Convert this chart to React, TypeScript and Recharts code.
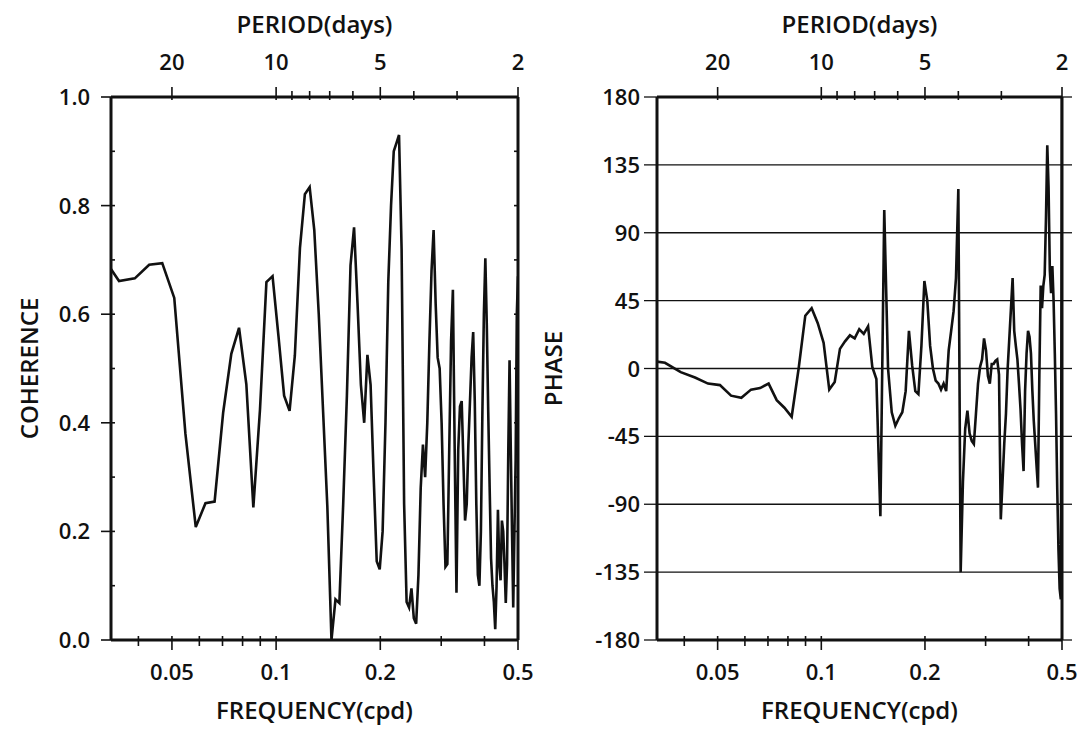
import React from "react";
import { ComposedChart, Line, XAxis, YAxis, CartesianGrid } from "recharts";

// spectral bins, cycles per day
const freq = [
  0.03125, 0.03516, 0.03906, 0.04297, 0.04688, 0.05078, 0.05469, 0.05859, 0.0625, 0.06641,
  0.07031, 0.07422, 0.07813, 0.08203, 0.08594, 0.08984, 0.09375, 0.09766, 0.10156, 0.10547,
  0.10938, 0.11328, 0.11719, 0.12109, 0.125, 0.12891, 0.13281, 0.13672, 0.14063, 0.14453,
  0.14844, 0.15234, 0.15625, 0.16016, 0.16406, 0.16797, 0.17188, 0.17578, 0.17969, 0.18359,
  0.1875, 0.19141, 0.19531, 0.19922, 0.20313, 0.20703, 0.21094, 0.21484, 0.21875, 0.22266,
  0.22656, 0.23047, 0.23438, 0.23828, 0.24219, 0.24609, 0.25, 0.25391, 0.25781, 0.26172,
  0.26563, 0.26953, 0.27344, 0.27734, 0.28125, 0.28516, 0.28906, 0.29297, 0.29688, 0.30078,
  0.30469, 0.30859, 0.3125, 0.31641, 0.32031, 0.32422, 0.32813, 0.33203, 0.33594, 0.33984,
  0.34375, 0.34766, 0.35156, 0.35547, 0.35938, 0.36328, 0.36719, 0.37109, 0.375, 0.37891,
  0.38281, 0.38672, 0.39063, 0.39453, 0.39844, 0.40234, 0.40625, 0.41016, 0.41406, 0.41797,
  0.42188, 0.42578, 0.42969, 0.43359, 0.4375, 0.44141, 0.44531, 0.44922, 0.45313, 0.45703,
  0.46094, 0.46484, 0.46875, 0.47266, 0.47656, 0.48047, 0.48438, 0.48828, 0.49219, 0.49609,
  0.5,
];

const coherence = [
  0.71, 0.661, 0.666, 0.691, 0.694, 0.63, 0.38, 0.208, 0.252, 0.255,
  0.419, 0.527, 0.575, 0.471, 0.244, 0.425, 0.659, 0.67, 0.56, 0.45,
  0.422, 0.524, 0.722, 0.821, 0.834, 0.755, 0.6, 0.42, 0.245, 0.0,
  0.075, 0.068, 0.25, 0.45, 0.69, 0.76, 0.62, 0.47, 0.4, 0.525,
  0.47, 0.3, 0.145, 0.13, 0.2, 0.4, 0.66, 0.8, 0.9, 0.915,
  0.93, 0.72, 0.25, 0.07, 0.06, 0.095, 0.04, 0.03, 0.12, 0.28,
  0.36, 0.3, 0.4, 0.55, 0.68, 0.755, 0.62, 0.52, 0.5, 0.4,
  0.25, 0.135, 0.14, 0.35, 0.55, 0.645, 0.35, 0.087, 0.35, 0.43,
  0.44, 0.33, 0.22, 0.25, 0.36, 0.44, 0.52, 0.567, 0.44, 0.25,
  0.12, 0.1, 0.2, 0.42, 0.6, 0.703, 0.58, 0.42, 0.28, 0.15,
  0.1, 0.07, 0.02, 0.1, 0.24, 0.14, 0.11, 0.22, 0.2, 0.14,
  0.068, 0.14, 0.35, 0.515, 0.35, 0.2, 0.06, 0.2, 0.33, 0.6,
  0.67,
];

const phase = [
  5.5, 3.8, -2.4, -6, -10, -11, -18, -19.4, -14, -13,
  -10, -21, -26, -32, 0, 35, 40, 30, 17, -14,
  -9, 13, 18, 22, 20, 26, 23, 28, 1, -7,
  -98, 105, 0, -29, -38, -33, -29, -15, 25, 2,
  -15, -17, 15, 58, 45, 15, 0, -8, -10, -14,
  -10, -15, 12, 25, 38, 60, 119, -135, -75, -40,
  -28, -43, -48, -50, -30, -10, 1, 6, 20, 12,
  -5, -10, 3, 3, 5, 6, -4, -100, -75, -50,
  -30, 0, 20, 40, 60, 25, 15, 6, -10, -27,
  -50, -68, -15, 10, 25, 21, 10, -15, -35, -50,
  -65, -79, -5, 55, 40, 55, 62, 100, 148, 120,
  65, 50, 68, 45, 10, -30, -80, -120, -146, -153,
  180,
];

// axis ticks
const freqMajor = [0.05, 0.1, 0.2, 0.5];
const freqTicks = [0.04, 0.05, 0.06, 0.07, 0.08, 0.09, 0.1, 0.2, 0.3, 0.4, 0.5];
const periodMajor = [20, 10, 5, 2];
const periodAll = [20, 10, 9, 8, 7, 6, 5, 4, 3, 2];
const cohTicks = [0, 0.1, 0.2, 0.3, 0.4, 0.5, 0.6, 0.7, 0.8, 0.9, 1];
const cohLabels = ["0.0", "", "0.2", "", "0.4", "", "0.6", "", "0.8", "", "1.0"];
const phaseTicks = [-180, -135, -90, -45, 0, 45, 90, 135, 180];

const F_DOMAIN: [number, number] = [1 / 30, 0.5];
const FONT = "'Open Sans', 'Noto Sans', sans-serif";
const INK = "#111";
const TICK_FS = 22;
const TITLE_FS = 24;
const WEIGHT = 600;

const cohData = freq.map((f, i) => ({ f, v: coherence[i] }));
const phaseData = freq.map((f, i) => ({ f, v: phase[i] }));

const txt = { fontSize: TICK_FS, fontFamily: FONT, fontWeight: WEIGHT, fill: INK };

function BottomTick({ x, y, payload }: any) {
  const v = payload.value as number;
  const major = freqMajor.includes(v);
  return (
    <g>
      <line x1={x} x2={x} y1={y - 4} y2={y + (major ? 10 : 6)} stroke={INK} strokeWidth={1.6} />
      {major && (
        <text x={x} y={y + 40} textAnchor="middle" {...txt}>
          {String(v)}
        </text>
      )}
    </g>
  );
}

function TopTick({ x, y, payload }: any) {
  const p = Math.round(1 / payload.value);
  const major = periodMajor.includes(p);
  return (
    <g>
      <line x1={x} x2={x} y1={y + 3} y2={y - (major ? 10 : 6)} stroke={INK} strokeWidth={1.6} />
      {major && (
        <text x={x} y={y - 27} textAnchor="middle" {...txt}>
          {p}
        </text>
      )}
    </g>
  );
}

function CohLeftTick({ x, y, index }: any) {
  const lab = cohLabels[index];
  return (
    <g>
      <line x1={x - (lab ? 10 : 0)} x2={x + 4} y1={y} y2={y} stroke={INK} strokeWidth={1.6} />
      {lab && (
        <text x={x - 21} y={y + 8} textAnchor="end" {...txt}>
          {lab}
        </text>
      )}
    </g>
  );
}

function CohRightTick({ x, y }: any) {
  return <line x1={x - 4} x2={x} y1={y} y2={y} stroke={INK} strokeWidth={1.6} />;
}

function PhaseLeftTick({ x, y, payload }: any) {
  return (
    <g>
      <line x1={x - 13} x2={x} y1={y} y2={y} stroke={INK} strokeWidth={1.3} />
      <text x={x - 17} y={y + 8} textAnchor="end" {...txt}>
        {payload.value}
      </text>
    </g>
  );
}

function PhaseRightTick({ x, y }: any) {
  return <line x1={x} x2={x + 10} y1={y} y2={y} stroke={INK} strokeWidth={1.3} />;
}

// titles placed from the axis box handed to the label
const topTitle = (p: any) => {
  const vb = p.viewBox;
  return (
    <text x={vb.x + vb.width / 2} y={vb.y + 33} textAnchor="middle" {...txt} fontSize={TITLE_FS}>
      PERIOD(days)
    </text>
  );
};

const bottomTitle = (p: any) => {
  const vb = p.viewBox;
  return (
    <text x={vb.x + vb.width / 2} y={vb.y + 79} textAnchor="middle" {...txt} fontSize={TITLE_FS}>
      FREQUENCY(cpd)
    </text>
  );
};

const sideTitle = (text: string, cx: number) => (p: any) => {
  const vb = p.viewBox;
  const cy = vb.y + vb.height / 2;
  return (
    <text x={cx} y={cy} transform={`rotate(-90, ${cx}, ${cy})`} textAnchor="middle" {...txt} fontSize={TITLE_FS}>
      {text}
    </text>
  );
};

const axisLine = { stroke: INK, strokeWidth: 3 };

function CoherencePanel() {
  return (
    <ComposedChart width={540} height={733} data={cohData} margin={{ top: 0, right: 0, bottom: 0, left: 0 }}>
      <XAxis
        xAxisId="bot"
        dataKey="f"
        type="number"
        scale="log"
        domain={F_DOMAIN}
        allowDataOverflow
        ticks={freqTicks}
        interval={0}
        height={93}
        tickSize={0}
        tickMargin={0}
        tickLine={false}
        tick={BottomTick}
        axisLine={axisLine}
        label={bottomTitle}
      />
      <XAxis
        xAxisId="top"
        orientation="top"
        dataKey="f"
        type="number"
        scale="log"
        domain={F_DOMAIN}
        allowDataOverflow
        ticks={periodAll.map((p) => 1 / p)}
        interval={0}
        height={97}
        tickSize={0}
        tickMargin={0}
        tickLine={false}
        tick={TopTick}
        axisLine={axisLine}
        label={topTitle}
      />
      <YAxis
        yAxisId="l"
        type="number"
        domain={[0, 1]}
        allowDataOverflow
        ticks={cohTicks}
        interval={0}
        width={111}
        tickSize={0}
        tickMargin={0}
        tickLine={false}
        tick={CohLeftTick}
        axisLine={axisLine}
        label={sideTitle("COHERENCE", 38)}
      />
      <YAxis
        yAxisId="r"
        orientation="right"
        type="number"
        domain={[0, 1]}
        allowDataOverflow
        ticks={cohTicks}
        interval={0}
        width={22}
        tickSize={0}
        tickMargin={0}
        tickLine={false}
        tick={CohRightTick}
        axisLine={axisLine}
      />
      <Line
        xAxisId="bot"
        yAxisId="l"
        type="linear"
        dataKey="v"
        stroke={INK}
        strokeWidth={2.6}
        dot={false}
        activeDot={false}
        isAnimationActive={false}
      />
    </ComposedChart>
  );
}

function PhasePanel() {
  return (
    <ComposedChart width={561} height={733} data={phaseData} margin={{ top: 0, right: 0, bottom: 0, left: 0 }}>
      <CartesianGrid xAxisId="bot" yAxisId="l" vertical={false} stroke={INK} strokeWidth={1.3} />
      <XAxis
        xAxisId="bot"
        dataKey="f"
        type="number"
        scale="log"
        domain={F_DOMAIN}
        allowDataOverflow
        ticks={freqTicks}
        interval={0}
        height={93}
        tickSize={0}
        tickMargin={0}
        tickLine={false}
        tick={BottomTick}
        axisLine={axisLine}
        label={bottomTitle}
      />
      <XAxis
        xAxisId="top"
        orientation="top"
        dataKey="f"
        type="number"
        scale="log"
        domain={F_DOMAIN}
        allowDataOverflow
        ticks={periodAll.map((p) => 1 / p)}
        interval={0}
        height={97}
        tickSize={0}
        tickMargin={0}
        tickLine={false}
        tick={TopTick}
        axisLine={axisLine}
        label={topTitle}
      />
      <YAxis
        yAxisId="l"
        type="number"
        domain={[-180, 180]}
        allowDataOverflow
        ticks={phaseTicks}
        interval={0}
        width={137}
        tickSize={0}
        tickMargin={0}
        tickLine={false}
        tick={PhaseLeftTick}
        axisLine={axisLine}
        label={sideTitle("PHASE", 42)}
      />
      <YAxis
        yAxisId="r"
        orientation="right"
        type="number"
        domain={[-180, 180]}
        allowDataOverflow
        ticks={phaseTicks}
        interval={0}
        width={19}
        tickSize={0}
        tickMargin={0}
        tickLine={false}
        tick={PhaseRightTick}
        axisLine={axisLine}
      />
      <Line
        xAxisId="bot"
        yAxisId="l"
        type="linear"
        dataKey="v"
        stroke={INK}
        strokeWidth={2.6}
        dot={false}
        activeDot={false}
        isAnimationActive={false}
      />
    </ComposedChart>
  );
}

export default function App() {
  return (
    <div style={{ position: "absolute", left: 0, top: 0, width: 1081, height: 733, background: "#fff" }}>
      <div style={{ position: "absolute", left: 0, top: 0 }}>
        <CoherencePanel />
      </div>
      <div style={{ position: "absolute", left: 520, top: 0 }}>
        <PhasePanel />
      </div>
    </div>
  );
}
